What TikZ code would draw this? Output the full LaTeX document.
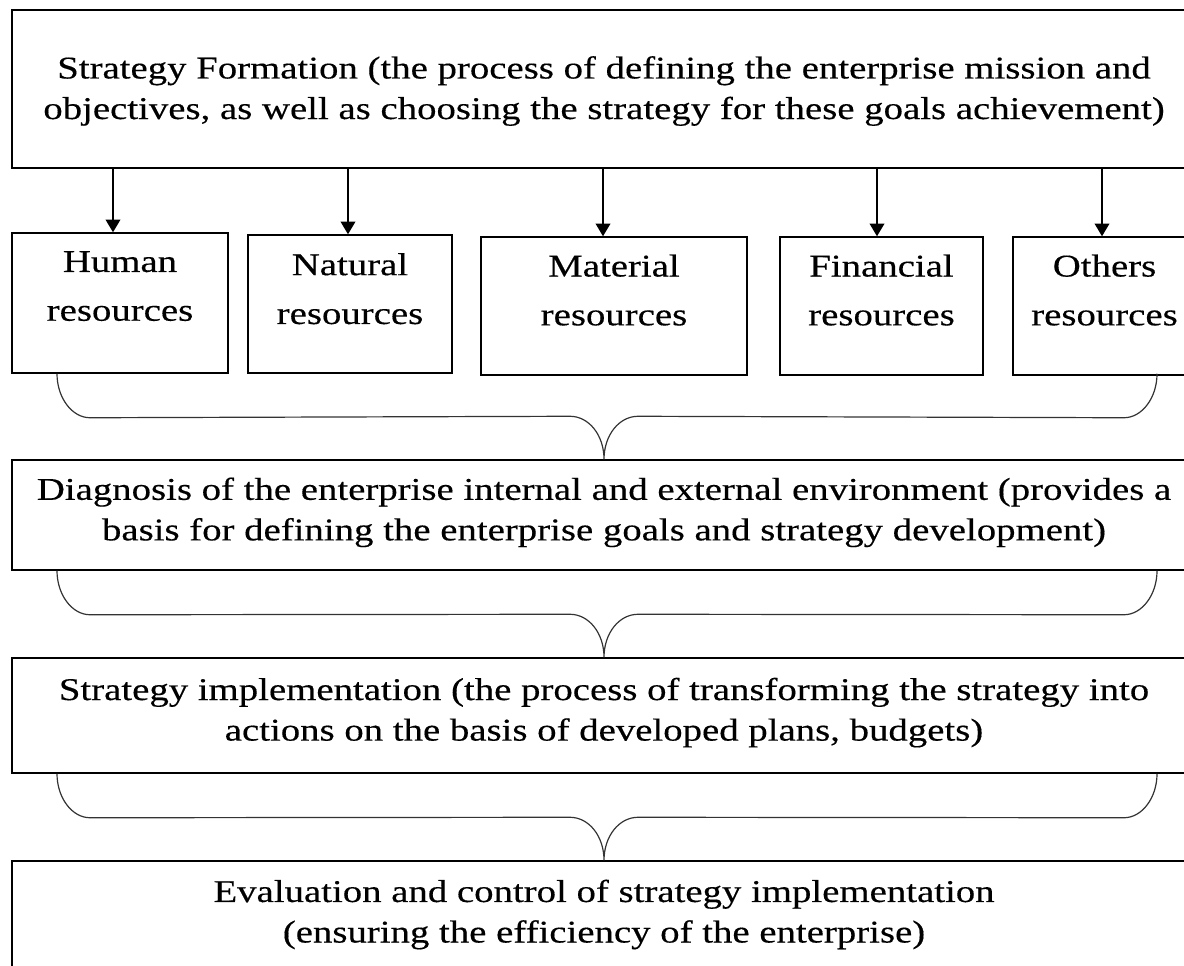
\documentclass[tikz,border=0pt]{standalone}
\usepackage{fontspec}
\setmainfont[FakeStretch=1.225, FakeBold=0.35]{Liberation Serif}
\usetikzlibrary{arrows.meta,calc,fit}

\tikzset{
  box/.style={draw, line width=1.1pt, inner sep=0pt},
  txt/.style={inner sep=0pt, align=center},
  restext/.style={anchor=north, inner sep=0pt, align=center,
    font=\fontsize{23.75pt}{36.6pt}\selectfont},
  flow/.style={-{Triangle[width=11pt,length=9.5pt]}, line width=1.1pt},
  brace/.style={line width=0.9pt, draw=black!80},
}

\begin{document}
\begin{tikzpicture}[x=0.75pt, y=-0.75pt, font=\fontsize{23.75pt}{30.4pt}\selectfont]
\useasboundingbox (0,0) rectangle (1184,965);

% main steps
\node[box, fit={(12,10) (1196,168)}] (top) {};
\node[box, fit={(12,460) (1196,570)}] (diag) {};
\node[box, fit={(12,658) (1196,773)}] (impl) {};
\node[box, fit={(12,861) (1196,976)}] (eval) {};
\node[txt] (top-t) at ([yshift=-1.5pt]top.center) {Strategy Formation (the process of defining the enterprise mission and\\objectives, as well as choosing the strategy for these goals achievement)};
\node[txt] (diag-t) at ([yshift=2pt]diag.center) {Diagnosis of the enterprise internal and external environment (provides a\\basis for defining the enterprise goals and strategy development)};
\node[txt] (impl-t) at ([yshift=2.2pt]impl.center) {Strategy implementation (the process of transforming the strategy into\\actions on the basis of developed plans, budgets)};
\node[txt] (eval-t) at ([yshift=3pt]eval.center) {Evaluation and control of strategy implementation\\(ensuring the efficiency of the enterprise)};

% resources
\node[box, fit={(12,233) (228,373)}] (hr) {};
\node[box, fit={(248,235) (452,373)}] (nr) {};
\node[box, fit={(481,237) (747,375)}] (mr) {};
\node[box, fit={(780,237) (983,375)}] (fr) {};
\node[box, fit={(1013,237) (1196,375)}] (ot) {};
\node[restext] (hr-t) at ([yshift=-14pt]hr.north) {Human\\resources};
\node[restext] (nr-t) at ([yshift=-14pt]nr.north) {Natural\\resources};
\node[restext] (mr-t) at ([yshift=-13.5pt]mr.north) {Material\\resources};
\node[restext] (fr-t) at ([yshift=-13.5pt]fr.north) {Financial\\resources};
\node[restext] (ot-t) at ([yshift=-13.5pt]ot.north) {Others\\resources};

\foreach \b/\dx in {hr/-7, nr/-2, mr/-11, fr/-4.5, ot/-2.5} {
  \coordinate (\b-in) at ($(\b.north)+(\dx,0)$);
  \draw[flow] (top.south -| \b-in) -- (\b-in);
}

% braces between the steps
\coordinate (lx) at (57,0);
\coordinate (rx) at (1157,0);
\foreach \up/\low in {hr/diag, diag/impl, impl/eval} {
  \path (lx |- \up.south) coordinate (p1) ++(33,44) coordinate (p2)
        (\low.north) coordinate (p4) ++(-34,-43) coordinate (p3)
        (p4) ++(34,-43) coordinate (p5)
        (rx |- \up.south) coordinate (p7) ++(-33,44) coordinate (p6);
  \draw[brace] (p1) .. controls ($(p1)+(0,24)$) and ($(p2)+(-18,0)$) .. (p2)
    -- (p3) .. controls ($(p3)+(19,0)$) and ($(p4)+(0,-24)$) .. (p4)
    .. controls ($(p4)+(0,-24)$) and ($(p5)+(-19,0)$) .. (p5)
    -- (p6) .. controls ($(p6)+(18,0)$) and ($(p7)+(0,24)$) .. (p7);
}
\end{tikzpicture}
\end{document}
